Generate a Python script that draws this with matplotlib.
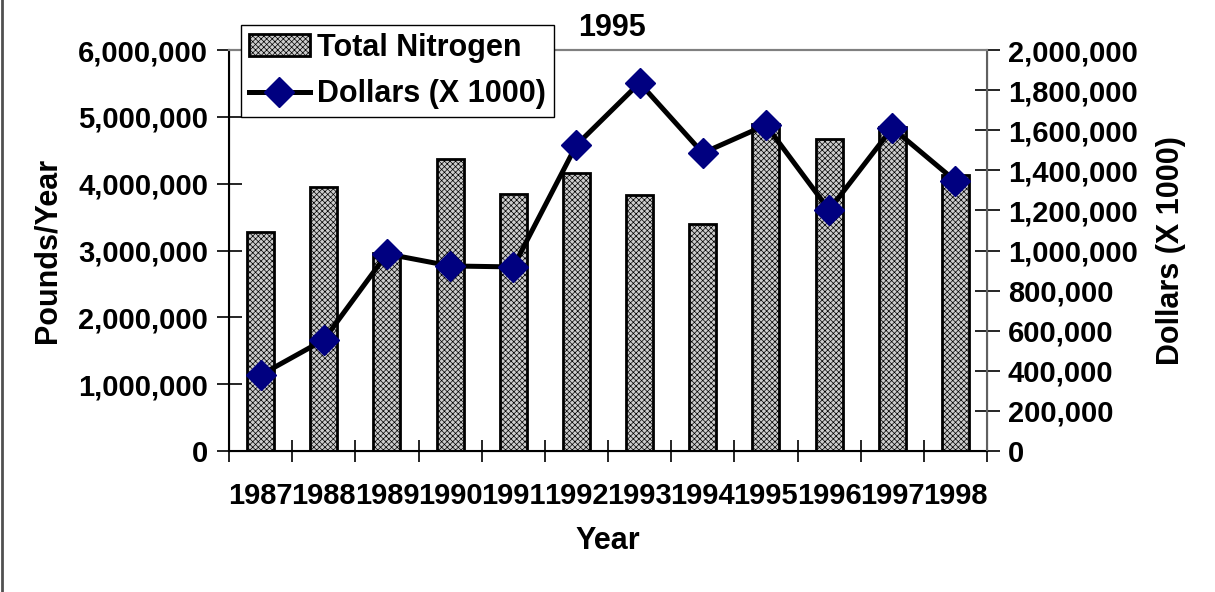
import matplotlib
matplotlib.use('Agg')
import matplotlib.pyplot as plt
from matplotlib.ticker import FuncFormatter, FixedLocator
from matplotlib.lines import Line2D
import numpy as np

plt.rcParams['font.family'] = ['Liberation Sans', 'DejaVu Sans']
plt.rcParams['font.weight'] = 'bold'
plt.rcParams['axes.labelweight'] = 'bold'
plt.rcParams['axes.titleweight'] = 'bold'
plt.rcParams['font.size'] = 22
plt.rcParams['hatch.linewidth'] = 0.5
plt.rcParams['hatch.color'] = '#505050'

# data
years = ['1987', '1988', '1989', '1990', '1991', '1992',
         '1993', '1994', '1995', '1996', '1997', '1998']
nitrogen = [3280000, 3950000, 2960000, 4370000, 3850000, 4160000,
            3830000, 3400000, 4890000, 4670000, 4850000, 4130000]
dollars = [379000, 554000, 983000, 923000, 918000, 1526000,
           1836000, 1486000, 1626000, 1202000, 1611000, 1347000]

fig = plt.figure(figsize=(12.15, 5.92), dpi=100)
ax = fig.add_axes([229 / 1215, 1 - 451 / 592, (987 - 229) / 1215, (451 - 50) / 592])
ax2 = ax.twinx()

x = np.arange(len(years))
bars = ax.bar(x, nitrogen, width=0.43, color='#cccccc', edgecolor='black',
              linewidth=2, hatch='xxxxxx', label='Total Nitrogen', zorder=2)
line, = ax2.plot(x, dollars, color='black', linewidth=3.6, marker='D',
                 markersize=15, markerfacecolor='#000080',
                 markeredgecolor='#000080', label='Dollars (X 1000)', zorder=3)

comma = FuncFormatter(lambda v, p: f'{v:,.0f}')

ax.set_xlim(-0.5, len(years) - 0.5)
ax.set_ylim(0, 6000000)
ax.set_yticks(np.arange(0, 6000001, 1000000))
ax.yaxis.set_major_formatter(comma)
ax2.set_ylim(0, 2000000)
ax2.set_yticks(np.arange(0, 2000001, 200000))
ax2.yaxis.set_major_formatter(comma)

ax.set_xticks(x)
ax.set_xticklabels(years, fontsize=21)
ax.xaxis.set_minor_locator(FixedLocator(np.arange(-0.5, len(years), 1)))
ax.tick_params(axis='x', which='major', length=0, pad=22)
ax.tick_params(axis='x', which='minor', direction='inout', length=16, width=1.2)
ax.tick_params(axis='y', direction='inout', length=18, width=1.2, pad=6, labelsize=21)
ax2.tick_params(axis='y', direction='inout', length=18, width=1.2, pad=6, labelsize=21)

for sp in ['left', 'bottom']:
    ax.spines[sp].set_linewidth(1.5)
ax.spines['top'].set_color('#808080')
ax.spines['top'].set_linewidth(1.5)
ax2.spines['top'].set_color('#808080')
ax2.spines['top'].set_linewidth(1.5)
ax2.spines['right'].set_color('#606060')
ax2.spines['right'].set_linewidth(1.5)

ax.set_ylabel('Pounds/Year', labelpad=11)
ax2.set_ylabel('Dollars (X 1000)', labelpad=13)
ax.set_xlabel('Year', labelpad=12)
ax.set_title('1995', fontsize=22, pad=10, x=0.505)

leg = ax2.legend(handles=[bars, line], loc='upper left',
                 bbox_to_anchor=(241 / 1215, 1 - 25 / 592),
                 bbox_transform=fig.transFigure, borderaxespad=0,
                 fancybox=False, framealpha=1, edgecolor='black',
                 handlelength=2.0, handletextpad=0.25, labelspacing=0.55,
                 borderpad=0.25)
leg.get_frame().set_linewidth(1.0)
leg.set_zorder(10)

fig.add_artist(Line2D([0.0015, 0.0015], [0, 1], transform=fig.transFigure,
                      color='#505050', linewidth=2))

fig.savefig('out.png', dpi=100)
